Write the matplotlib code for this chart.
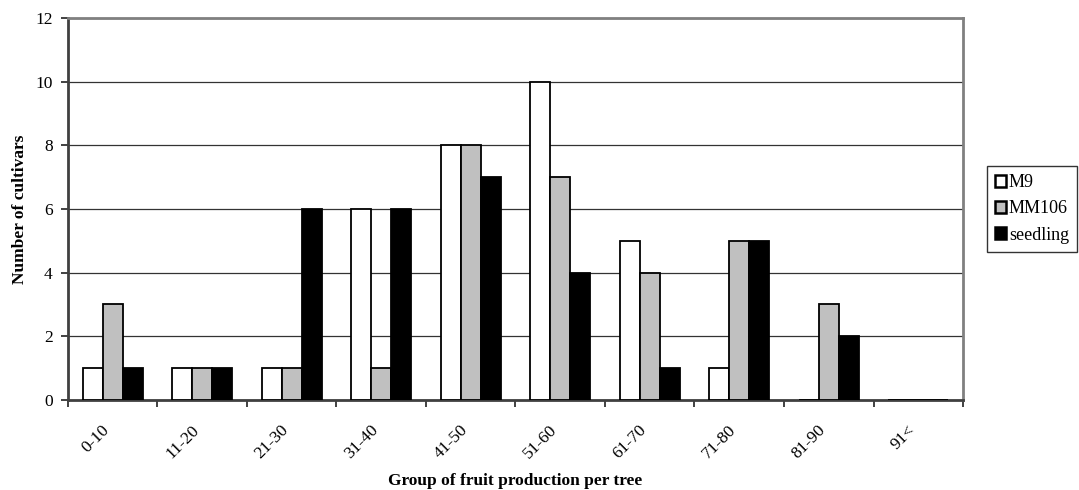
import numpy as np
import matplotlib.pyplot as plt

groups = ['0-10', '11-20', '21-30', '31-40', '41-50', '51-60',
          '61-70', '71-80', '81-90', '91<']
m9 = [1, 1, 1, 6, 8, 10, 5, 1, 0, 0]
mm106 = [3, 1, 1, 1, 8, 7, 4, 5, 3, 0]
seedling = [1, 1, 6, 6, 7, 4, 1, 5, 2, 0]

plt.rcParams['font.family'] = ['Liberation Serif', 'DejaVu Serif']

fig = plt.figure(figsize=(10.79, 4.90), dpi=100)
ax = fig.add_axes([0.063, 0.1837, 0.8295, 0.7796])

x = np.arange(len(groups))
w = 0.225
series = [(m9, 'white', 'M9'), (mm106, '#c0c0c0', 'MM106'), (seedling, 'black', 'seedling')]
for i, (vals, col, name) in enumerate(series):
    ax.bar(x + (i - 1) * w, vals, w, color=col, edgecolor='black',
           linewidth=1.3, label=name, zorder=3)

ax.set_xlim(-0.5, len(groups) - 0.5)
ax.set_ylim(0, 12)
ax.set_yticks(range(0, 13, 2))
ax.yaxis.grid(True, color='#333333', linewidth=0.9, zorder=0)

# ticks sit between categories, labels at category centres
ax.set_xticks(np.arange(-0.5, len(groups)), minor=False)
ax.set_xticklabels([])
ax.set_xticks(x, minor=True)
ax.set_xticklabels(groups, minor=True, rotation=45, ha='right', va='top',
                   fontsize=12.5)
ax.tick_params(axis='x', which='minor', length=0, pad=16)
ax.tick_params(axis='x', which='major', length=5, width=1.3, color='#333333')
ax.tick_params(axis='y', length=5, width=1.3, color='#333333', labelsize=12.5,
               pad=6)

for side in ['left', 'bottom']:
    ax.spines[side].set_color('#404040')
    ax.spines[side].set_linewidth(2)
for side in ['top', 'right']:
    ax.spines[side].set_color('#808080')
    ax.spines[side].set_linewidth(2)

ax.set_ylabel('Number of cultivars', fontsize=12.5, fontweight='bold', labelpad=5)
ax.set_xlabel('Group of fruit production per tree', fontsize=12.5,
              fontweight='bold', labelpad=8)

leg = ax.legend(loc='center left', bbox_to_anchor=(1.027, 0.5),
                frameon=True, fancybox=False, fontsize=13,
                handlelength=0.6, handleheight=0.6, handletextpad=0.15,
                labelspacing=0.5, borderpad=0.45, borderaxespad=0)
leg.get_frame().set_edgecolor('black')
leg.get_frame().set_linewidth(1)
for h in leg.legend_handles:
    h.set_linewidth(1.8)

fig.savefig('out.png', dpi=100)
